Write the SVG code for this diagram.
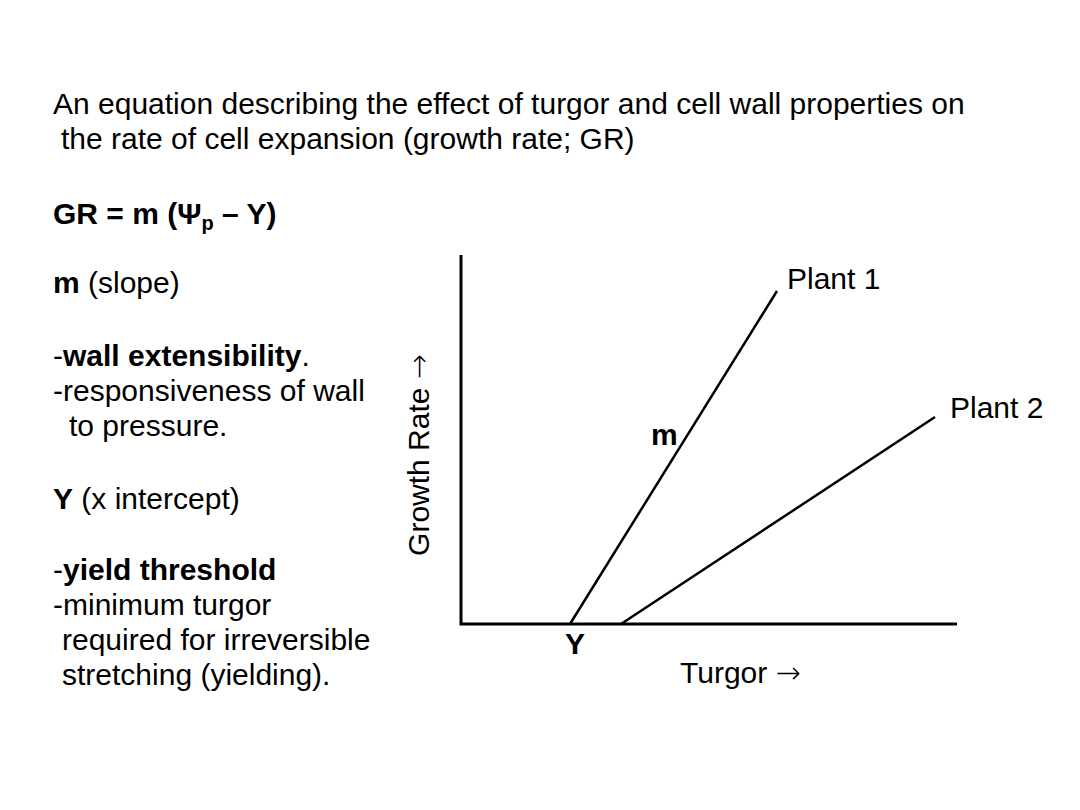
<svg xmlns="http://www.w3.org/2000/svg" width="1080" height="810" viewBox="0 0 1080 810">
<style>
text{font-family:"Liberation Sans",Arial,sans-serif;font-size:30px;fill:#000}
.b{font-weight:bold}
.arr{font-family:"DejaVu Sans",sans-serif;font-weight:200}
.axis{stroke:#000;stroke-width:3;fill:none}
.data{stroke:#000;stroke-width:2.5;fill:none}
</style>
<rect width="1080" height="810" fill="#fff"/>
<g id="title">
<text x="53" y="114">An equation describing the effect of turgor and cell wall properties on</text>
<text x="61" y="149">the rate of cell expansion (growth rate; GR)</text>
</g>
<g id="equation">
<text x="53" y="224" class="b">GR = m (Ψ<tspan font-size="20" dy="6">p</tspan><tspan dy="-6"> – Y)</tspan></text>
</g>
<g id="slope-notes">
<text x="53" y="293"><tspan class="b">m</tspan> (slope)</text>
<text x="53" y="366">-<tspan class="b">wall extensibility</tspan>.</text>
<text x="53" y="401">-responsiveness of wall</text>
<text x="69" y="436">to pressure.</text>
</g>
<g id="intercept-notes">
<text x="53" y="509"><tspan class="b">Y</tspan> (x intercept)</text>
<text x="53" y="580">-<tspan class="b">yield threshold</tspan></text>
<text x="53" y="615">-minimum turgor</text>
<text x="62" y="650">required for irreversible</text>
<text x="62" y="685">stretching (yielding).</text>
</g>
<g id="connectors">
<polyline class="axis" points="461,255 461,624 957,624"/>
<line class="data" x1="570" y1="624" x2="777" y2="291"/>
<line class="data" x1="621" y1="624" x2="935" y2="417"/>
</g>
<g id="axis-labels">
<text transform="translate(429,455) rotate(-90)" text-anchor="middle">Growth Rate <tspan class="arr">→</tspan></text>
<text x="680" y="683">Turgor <tspan class="arr">→</tspan></text>
</g>
<g id="plant1"><text x="787" y="289">Plant 1</text></g>
<g id="plant2"><text x="950" y="418">Plant 2</text></g>
<g id="m-label"><text x="651" y="445" class="b">m</text></g>
<g id="y-label"><text x="575" y="654" class="b" text-anchor="middle">Y</text></g>
</svg>
